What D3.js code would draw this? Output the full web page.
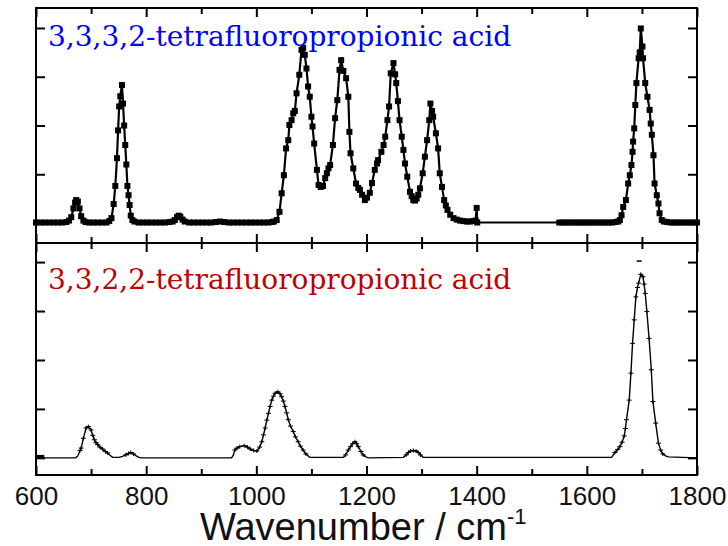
<!DOCTYPE html>
<html>
<head>
<meta charset="utf-8">
<script src="https://cdn.jsdelivr.net/npm/d3@7"></script>
<style>
  body { margin: 0; background: #fff; }
  svg { display: block; }
</style>
</head>
<body>
<div id="chart"></div>
<script>
// data (wavenumber in cm-1, absorbance in arbitrary units)
var topWn = [600, 608, 616, 624, 632, 640, 648, 655,
  660, 664, 668, 671, 673, 676, 679, 682, 686, 690,
  696, 704, 712, 720, 728, 733, 737,
  741, 744, 747, 749, 751, 753, 756, 758, 760, 762, 764, 766, 768, 770, 772, 775, 779,
  786, 794, 802, 810, 818, 826, 834, 842, 848,
  852, 856, 859, 862, 866, 870,
  878, 886, 894, 902, 910, 918, 926, 934, 942, 950, 958, 966, 974, 982, 990, 998, 1006, 1014, 1022, 1028, 1032, 1037,
  1042, 1046, 1050, 1054, 1058, 1060, 1064, 1067, 1070, 1073, 1078, 1082, 1085, 1088, 1091, 1094, 1097, 1100, 1102, 1105,
  1110, 1113, 1117, 1121, 1125, 1128, 1131, 1134, 1139, 1143, 1147, 1151, 1154, 1158, 1163, 1167, 1169, 1171, 1176, 1181,
  1185, 1188, 1192, 1197, 1201, 1206, 1210, 1215, 1219, 1221, 1227, 1231, 1234, 1238, 1241, 1244, 1249, 1252, 1254, 1257,
  1260, 1264, 1267, 1270, 1274, 1279, 1282, 1285, 1288, 1291, 1294, 1297, 1302, 1306, 1310, 1314, 1316, 1319, 1321, 1326,
  1330, 1333, 1337, 1341, 1344, 1347, 1352, 1358, 1364, 1370, 1376, 1382, 1388, 1394, 1398, 1400, 1401,
  1550, 1556, 1562, 1568, 1574, 1580, 1586, 1592, 1598, 1604, 1610, 1616, 1622, 1628, 1634, 1640, 1646, 1652, 1657, 1660,
  1663, 1666, 1671, 1675, 1678, 1681, 1683, 1684, 1686, 1688, 1690, 1694, 1696, 1698, 1701, 1702, 1706, 1710, 1714, 1716,
  1718, 1721, 1723, 1727, 1730, 1732, 1736, 1740, 1746, 1752, 1758, 1764, 1770, 1776, 1782, 1788, 1794, 1800];
var topAbs = [0.01, 0.01, 0.01, 0.01, 0.01, 0.01, 0.01, 0.02,
  0.05, 0.12, 0.30, 0.42, 0.47, 0.44, 0.30, 0.14, 0.05, 0.02,
  0.01, 0.01, 0.01, 0.01, 0.01, 0.04, 0.10,
  0.39, 0.76, 1.33, 1.90, 2.39, 2.60, 2.83, 2.45, 2.00, 1.60, 1.20, 0.76, 0.57, 0.37, 0.15, 0.06, 0.03,
  0.01, 0.01, 0.01, 0.01, 0.01, 0.01, 0.01, 0.02, 0.03,
  0.06, 0.12, 0.15, 0.13, 0.07, 0.03,
  0.01, 0.01, 0.01, 0.01, 0.01, 0.01, 0.02, 0.03, 0.02, 0.01, 0.01, 0.01, 0.01, 0.01, 0.01, 0.01, 0.01, 0.01, 0.01, 0.02, 0.03, 0.06,
  0.23, 0.61, 0.98, 1.53, 1.70, 2.01, 2.11, 2.25, 2.30, 2.66, 3.04, 3.55, 3.59, 3.45, 3.17, 2.80, 2.59, 2.18, 1.98, 1.63,
  1.09, 0.78, 0.74, 0.76, 0.92, 1.02, 1.12, 1.19, 1.60, 2.15, 2.52, 3.14, 3.34, 3.12, 2.97, 2.59, 1.87, 1.43, 1.12, 0.81,
  0.72, 0.68, 0.58, 0.47, 0.52, 0.62, 0.82, 1.09, 1.22, 1.29, 1.46, 1.60, 1.77, 2.11, 2.39, 3.07, 3.28, 3.05, 2.87, 2.50,
  2.11, 1.77, 1.50, 1.22, 0.95, 0.64, 0.55, 0.47, 0.46, 0.50, 0.58, 0.71, 1.02, 1.36, 1.70, 2.11, 2.45, 2.30, 2.18, 1.84,
  1.53, 1.02, 0.74, 0.47, 0.36, 0.27, 0.17, 0.10, 0.07, 0.05, 0.04, 0.03, 0.03, 0.04, 0.05, 0.31, 0.01,
  0.01, 0.01, 0.01, 0.01, 0.01, 0.01, 0.01, 0.01, 0.01, 0.01, 0.01, 0.01, 0.01, 0.01, 0.01, 0.01, 0.01, 0.02, 0.03, 0.06,
  0.16, 0.33, 0.47, 0.81, 0.98, 1.19, 1.46, 1.67, 1.94, 2.42, 2.87, 3.38, 3.50, 3.99, 3.62, 3.38, 2.87, 2.59, 2.32, 2.04,
  1.81, 1.39, 0.81, 0.57, 0.40, 0.20, 0.06, 0.03, 0.02, 0.01, 0.01, 0.01, 0.01, 0.01, 0.01, 0.01, 0.01, 0.01];

var bottomWn = [600, 672, 676, 680, 682, 686, 691, 695, 700, 703, 706, 709, 712, 716, 721, 726, 730, 735, 739,
  751, 757, 763, 768, 772, 777, 782, 787, 791,
  955, 958, 961, 965, 970, 978, 984, 989, 995, 1001, 1006, 1010, 1013, 1016, 1019, 1022, 1025, 1028, 1031, 1034,
  1039, 1043, 1046, 1049, 1052, 1055, 1058, 1062, 1067, 1071, 1076, 1080, 1085, 1090, 1097,
  1158, 1162, 1167, 1171, 1175, 1179, 1182, 1185, 1190, 1194, 1199, 1203,
  1267, 1272, 1276, 1280, 1285, 1290, 1294, 1298, 1303,
  1645, 1651, 1656, 1660, 1664, 1668, 1670, 1672, 1677, 1680, 1683, 1686, 1689, 1692, 1694, 1698, 1702, 1704,
  1706, 1709, 1713, 1717, 1720, 1725, 1730, 1734, 1738, 1743, 1748, 1800];
var bottomAbs = [0, 0, 0.04, 0.15, 0.20, 0.40, 0.61, 0.64, 0.57, 0.46, 0.37, 0.31, 0.27, 0.22, 0.18, 0.13, 0.10, 0.05, 0.01,
  0.01, 0.03, 0.06, 0.09, 0.11, 0.08, 0.04, 0.01, 0,
  0, 0.05, 0.16, 0.20, 0.23, 0.25, 0.22, 0.18, 0.15, 0.14, 0.22, 0.33, 0.47, 0.61, 0.77, 0.91, 1.05, 1.18, 1.26, 1.32,
  1.35, 1.31, 1.25, 1.16, 1.05, 0.92, 0.78, 0.65, 0.54, 0.43, 0.33, 0.24, 0.16, 0.08, 0.01,
  0.01, 0.06, 0.16, 0.23, 0.29, 0.33, 0.29, 0.23, 0.13, 0.06, 0.02, 0,
  0.01, 0.06, 0.11, 0.14, 0.15, 0.14, 0.11, 0.06, 0.01,
  0.01, 0.11, 0.17, 0.23, 0.32, 0.45, 0.60, 0.78, 1.18, 1.73, 2.34, 2.82, 3.29, 3.48, 3.57, 3.75, 3.70, 3.55,
  3.36, 2.99, 2.44, 1.80, 1.15, 0.71, 0.30, 0.16, 0.08, 0.04, 0.02, 0];

// short thick stub at the left of the lower trace and the stray cap above its top peak
var bottomStubWn = [600, 615];
var bottomStubAbs = [0.02, 0.02];
var bottomCapWn = [1695];
var bottomCapAbs = [4.02];

var xTicks = [600, 800, 1000, 1200, 1400, 1600, 1800];
var xMinorTicks = [700, 900, 1100, 1300, 1500, 1700];
var yTicks = [0, 1, 2, 3, 4];

var topLabel = "3,3,3,2-tetrafluoropropionic acid";
var bottomLabel = "3,3,2,2-tetrafluoropropionic acid";

// layout
var svgWidth = 728;
var svgHeight = 546;
var plotLeft = 36, plotRight = 697, plotTop = 8, plotMid = 243, plotBottom = 475;

var svg = d3.select("#chart")
  .append("svg")
  .attr("width", svgWidth)
  .attr("height", svgHeight);

var xScale = d3.scaleLinear().domain([600, 1800]).range([plotLeft, plotRight]);
var yTop = d3.scaleLinear().domain([-0.41, 4.41]).range([plotMid, plotTop]);
var yBottom = d3.scaleLinear().domain([-0.35, 4.39]).range([plotBottom, plotMid]);

// x axes: inward ticks on every horizontal edge
function xAxisAt(y, dir, withLabels) {
  var major = dir === "down" ? d3.axisTop(xScale) : d3.axisBottom(xScale);
  major.tickValues(xTicks).tickSizeOuter(0).tickSizeInner(-9).tickPadding(12)
    .tickFormat(withLabels ? d3.format("d") : "");
  var g = svg.append("g").attr("transform", `translate(0, ${y})`).call(major);
  var minor = dir === "down" ? d3.axisTop(xScale) : d3.axisBottom(xScale);
  minor.tickValues(xMinorTicks).tickSizeOuter(0).tickSizeInner(-6).tickFormat("");
  svg.append("g").attr("transform", `translate(0, ${y})`).call(minor);
  return g;
}
xAxisAt(plotTop, "down", false);
xAxisAt(plotMid, "up", false);
xAxisAt(plotMid, "down", false);
var xLabelAxis = xAxisAt(plotBottom, "up", true);

// y axes, left and right, both panels
[yTop, yBottom].forEach(function(ys) {
  svg.append("g").attr("transform", `translate(${plotLeft}, 0)`)
    .call(d3.axisLeft(ys).tickValues(yTicks).tickSizeInner(-9).tickSizeOuter(0).tickFormat(""));
  svg.append("g").attr("transform", `translate(${plotRight}, 0)`)
    .call(d3.axisRight(ys).tickValues(yTicks).tickSizeInner(-9).tickSizeOuter(0).tickFormat(""));
});

svg.selectAll(".domain").remove();
svg.selectAll(".tick line").attr("stroke", "#000").attr("stroke-width", 2);

xLabelAxis.selectAll("text")
  .attr("fill", "#111")
  .style("font-family", "'Liberation Sans', Arial, sans-serif")
  .style("font-size", "26px");

// frame
svg.append("rect")
  .attr("x", plotLeft).attr("y", plotTop)
  .attr("width", plotRight - plotLeft).attr("height", plotBottom - plotTop)
  .attr("fill", "none").attr("stroke", "#000").attr("stroke-width", 2);
svg.append("line")
  .attr("x1", plotLeft).attr("x2", plotRight).attr("y1", plotMid).attr("y2", plotMid)
  .attr("stroke", "#000").attr("stroke-width", 2);

// upper trace: line with square markers
var topData = topWn.map(function(w, i) { return [w, topAbs[i]]; });
svg.append("path")
  .datum(topData)
  .attr("fill", "none")
  .attr("stroke", "#000")
  .attr("stroke-width", 2.2)
  .attr("d", d3.line().x(d => xScale(d[0])).y(d => yTop(d[1])));

svg.append("g").selectAll("rect")
  .data(topData)
  .enter()
  .append("rect")
  .attr("x", d => xScale(d[0]) - 3)
  .attr("y", d => yTop(d[1]) - 3)
  .attr("width", 6)
  .attr("height", 6)
  .attr("fill", "#000");

// lower trace: thin line with small error marks
var bottomData = bottomWn.map(function(w, i) { return [w, bottomAbs[i]]; });
svg.append("path")
  .datum(bottomData)
  .attr("fill", "none")
  .attr("stroke", "#000")
  .attr("stroke-width", 1.4)
  .attr("d", d3.line().x(d => xScale(d[0])).y(d => yBottom(d[1])));

var marks = svg.append("g").attr("stroke", "#000").attr("stroke-width", 1);
marks.selectAll("path.err")
  .data(bottomData.filter(d => d[1] > 0.05))
  .enter()
  .append("path")
  .attr("class", "err")
  .attr("d", function(d) {
    var px = xScale(d[0]), py = yBottom(d[1]);
    return `M${px - 2.5},${py}H${px + 2.5}M${px},${py - 2}V${py + 2}`;
  });

marks.selectAll("path.cap")
  .data(bottomCapWn.map((w, i) => [w, bottomCapAbs[i]]))
  .enter()
  .append("path")
  .attr("class", "cap")
  .attr("stroke-width", 1.5)
  .attr("d", d => `M${xScale(d[0]) - 2.5},${yBottom(d[1])}H${xScale(d[0]) + 2.5}`);

svg.append("path")
  .datum(bottomStubWn.map((w, i) => [w, bottomStubAbs[i]]))
  .attr("fill", "none")
  .attr("stroke", "#000")
  .attr("stroke-width", 4)
  .attr("d", d3.line().x(d => xScale(d[0])).y(d => yBottom(d[1])));

// panel labels
svg.append("text")
  .attr("x", 48).attr("y", 46)
  .attr("fill", "#0000ff")
  .style("font-family", "'DejaVu Serif', serif")
  .style("font-size", "28px")
  .text(topLabel);

svg.append("text")
  .attr("x", 48).attr("y", 289)
  .attr("fill", "#c00000")
  .style("font-family", "'DejaVu Serif', serif")
  .style("font-size", "28px")
  .text(bottomLabel);

// axis title
var title = svg.append("text")
  .attr("x", 200).attr("y", 540)
  .attr("fill", "#111")
  .style("font-family", "'Liberation Sans', Arial, sans-serif")
  .style("font-size", "38px");
title.append("tspan").text("Wavenumber / cm");
title.append("tspan").attr("dy", -16).style("font-size", "22px").text("-1");
</script>
</body>
</html>
